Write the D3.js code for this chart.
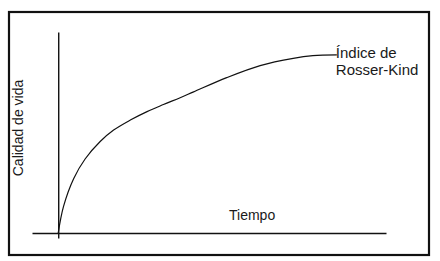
<!DOCTYPE html>
<html>
<head>
<meta charset="utf-8">
<script src="https://cdn.jsdelivr.net/npm/d3@7"></script>
<style>
  body { margin: 0; background: #fff; }
  text { font-family: "Liberation Sans", Arial, sans-serif; fill: #1a1a1a; }
</style>
</head>
<body>
<div id="chart"></div>
<script>
// curve (time vs quality, arbitrary units)
const tiempo = [0, 1.6, 4.7, 8.2, 12.8, 16.9, 22.0, 27.1, 32.1, 37.2, 41.3, 51.4, 61.6, 71.7, 77.7, 85.0];
const calidad = [0, 13.1, 27.0, 36.8, 45.5, 51.2, 56.2, 60.4, 63.9, 67.3, 70.2, 77.3, 83.3, 86.9, 88.2, 88.6];
const labelX = 'Tiempo';
const labelY = 'Calidad de vida';
const labelCurve = ['Índice de', 'Rosser-Kind'];

const width = 440, height = 261;

const svg = d3.select('#chart')
  .append('svg')
  .attr('width', width)
  .attr('height', height);

// frame
svg.append('rect')
  .attr('x', 9).attr('y', 12)
  .attr('width', 420).attr('height', 243)
  .attr('fill', 'none')
  .attr('stroke', '#111')
  .attr('stroke-width', 2.2);

const x = d3.scaleLinear().domain([-8, 100]).range([32, 386]);
const y = d3.scaleLinear().domain([-2.5, 100]).range([238, 32]);

const xAxis = d3.axisBottom(x).ticks(0).tickSizeOuter(0);
const yAxis = d3.axisLeft(y).ticks(0).tickSizeOuter(0);

const xAxisGroup = svg.append('g')
  .attr('transform', `translate(0, ${y(0)})`)
  .call(xAxis);
const yAxisGroup = svg.append('g')
  .attr('transform', `translate(${x(0)}, 0)`)
  .call(yAxis);

svg.selectAll('.domain')
  .attr('stroke', '#111')
  .attr('stroke-width', 1.4);

const points = tiempo.map((t, i) => ({ t, q: calidad[i] }));

const line = d3.line()
  .x(d => x(d.t))
  .y(d => y(d.q))
  .curve(d3.curveCatmullRom.alpha(0.5));

svg.append('path')
  .datum(points)
  .attr('d', line)
  .attr('fill', 'none')
  .attr('stroke', '#111')
  .attr('stroke-width', 1.2);

// labels
svg.append('text')
  .attr('x', 229).attr('y', 220)
  .attr('font-size', 14)
  .text(labelX);

svg.append('text')
  .attr('transform', 'translate(23, 128) rotate(-90)')
  .attr('text-anchor', 'middle')
  .attr('font-size', 14)
  .text(labelY);

const last = points[points.length - 1];
svg.append('text')
  .attr('x', x(last.t) - 1)
  .attr('y', 58)
  .attr('font-size', 15)
  .selectAll('tspan')
  .data(labelCurve)
  .join('tspan')
  .attr('x', x(last.t) - 1)
  .attr('dy', (d, i) => i === 0 ? 0 : 17)
  .text(d => d);
</script>
</body>
</html>
